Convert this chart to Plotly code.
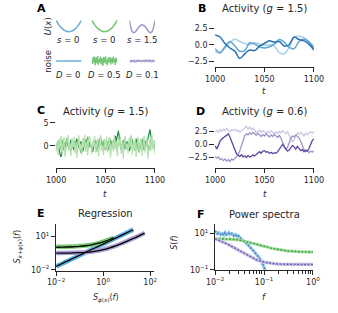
import numpy as np
import plotly.graph_objects as go

W, H = 338, 313

# ---------------- data ----------------
# Panel A: potentials and noise icons
pot_x = [-1.0, -0.75, -0.5, -0.25, 0.0, 0.25, 0.5, 0.75, 1.0]
pot_parabola = [1.0, 0.5625, 0.25, 0.0625, 0.0, 0.0625, 0.25, 0.5625, 1.0]
dw_x = [-1.5, -1.35, -1.2, -1.0, -0.8, -0.6, -0.4, -0.2, 0.0, 0.2, 0.4, 0.6, 0.8, 1.0, 1.2, 1.35, 1.5]
dw_u = [1.0, 0.433, 0.124, 0.0, 0.083, 0.262, 0.452, 0.59, 0.64, 0.59, 0.452, 0.262, 0.083, 0.0, 0.124, 0.433, 1.0]
noise_none = [0.0, 0.0]
noise_green = [0.2, -0.6, 0.8, -0.3, 0.9, -0.9, 0.4, 0.7, -0.5, 1.0, -0.8, 0.3, -0.2, 0.9, -0.7, 0.6, 0.1, -1.0, 0.8, -0.4,
               0.5, 0.95, -0.6, 0.2, -0.9, 0.7, 0.4, -0.3, 0.85, -0.7, 0.3, 0.6, -0.5, 0.9, -0.2, 0.4, -0.8, 0.7, 0.1, -0.3]
noise_purple = [0.05, -0.15, 0.1, -0.05, 0.2, -0.1, 0.0, 0.15, -0.2, 0.1, 0.05, -0.1, 0.15, -0.05, 0.1, -0.15, 0.2, 0.0, -0.1, 0.1,
                -0.2, 0.05, 0.15, -0.1, 0.0, 0.2, -0.15, 0.1, -0.05, 0.15, -0.1, 0.05, 0.2, -0.15, 0.0, 0.1, -0.1, 0.15, -0.05, 0.05]
pot_labels = ["<i>s</i> = 0", "<i>s</i> = 0", "<i>s</i> = 1.5"]
noise_labels = ["<i>D</i> = 0", "<i>D</i> = 0.5", "<i>D</i> = 0.1"]

# Panel B: smooth activity, g = 1.5
t_B = [1000, 1005, 1010, 1015, 1020, 1025, 1030, 1035, 1040, 1045, 1050, 1055, 1060, 1065, 1070, 1075, 1080, 1085, 1090, 1095, 1100]
B_dark = [1.5, 1.2, 0.2, -0.5, -1.0, -2.1, -1.4, -0.8, -0.9, -0.2, 0.2, 0.6, 0.4, 0.5, -0.2, 0.0, 1.2, 0.8, 0.6, 0.1, -0.8]
B_mid = [-0.6, -1.2, -0.3, 0.5, -0.2, -1.0, -0.9, 0.3, 0.1, -0.3, -0.5, -0.3, 0.1, 0.8, 0.4, -0.4, -0.6, 0.5, 0.9, 0.4, -0.5]
B_light = [-1.0, -1.3, -0.5, 0.3, 0.9, 0.5, 0.2, 0.0, 0.3, 0.1, -0.1, 0.0, -0.2, -1.2, -1.4, -0.4, 1.2, 1.3, 1.1, 0.5, -0.2]

# Panel C: noisy activity, g = 1.5
C_dark = [0.3, -0.4, 0.6, -0.9, -1.8, -2.4, -1.2, 0.2, 0.8, -0.3, 0.5, 1.1, 0.2, -0.6, 0.4, 1.3, 0.7, -0.2, -0.9, 0.1,
          0.9, 1.6, 0.6, -0.4, 0.3, 1.0, -0.5, -1.2, -0.3, 0.6, 1.4, 0.5, -0.7, 0.2, 0.9, 0.1, -0.8, -1.3, -0.2, 0.7,
          1.2, 0.3, -0.5, 0.4, 1.1, 1.8, 0.6, -0.3, 0.5, -0.6, 0.2, 1.0, 0.4, -0.9, 0.3, 1.3, 0.8, -0.1, 0.6, 1.5,
          2.2, 1.1, 2.6, 3.3, 1.9, 0.7, -0.4, 0.5, 1.2, 0.2, -0.7, 0.4, 1.0, 0.1, -1.1, -0.4, 0.6, 1.4, 0.3, -0.5,
          0.8, 1.6, 0.5, -0.6, -1.4, -0.3, 0.7, 1.2, 0.2, -0.8, 0.4, 1.1, 0.6, 1.7, 2.4, 3.6, 2.1, 0.9, 0.2, -0.6, 0.4]
C_mid = [-0.6, 0.4, 1.1, 0.2, -0.8, 0.5, 1.4, 0.3, -1.0, -0.2, 0.9, 1.7, 0.6, -0.5, 0.3, -1.1, -0.3, 0.8, 1.2, 0.1,
         -0.7, 0.5, 1.5, 0.4, -0.9, -1.5, -0.4, 0.7, 1.3, 0.2, -0.6, 0.9, 2.0, 1.0, -0.2, 0.4, -0.8, 0.3, 1.1, 0.5,
         -0.4, -1.2, 0.1, 0.8, 1.6, 0.7, -0.3, 0.5, 1.2, -0.1, -0.9, 0.3, 1.0, 0.2, 1.8, 0.9, -0.4, 0.2, -0.7, 0.6,
         1.3, 0.4, -0.5, 0.8, 1.5, 0.3, -1.0, -0.2, 0.9, 1.4, 0.5, -0.6, 0.1, 0.8, -0.3, 1.2, 2.1, 0.7, -0.4, 0.3,
         -1.1, -0.2, 0.6, 1.3, 0.4, -0.5, 0.9, 1.6, 0.2, -0.7, 0.5, -0.2, 1.0, 0.3, -0.9, 0.6, 1.4, 0.5, -0.3, 0.8, 1.2]
C_light = [-1.2, 0.9, -2.0, 1.6, -0.5, 2.2, -1.7, 0.4, 1.9, -2.4, -0.8, 1.3, 2.4, -1.1, 0.6, -2.2, 1.7, -0.3, 2.0, -1.6,
           0.8, -2.6, 1.1, 2.3, -0.9, 0.5, -1.9, 1.8, -0.4, 2.5, -1.3, 0.7, -2.1, 1.4, 2.1, -0.7, -1.8, 1.0, -0.2, 2.2,
           -1.5, 0.3, 1.6, -2.3, 0.9, 2.4, -1.0, 0.2, -2.0, 1.5, -0.6, 2.0, -1.4, 0.8, 1.9, -2.5, 0.4, 1.2, -1.2, 2.3,
           -0.8, 0.6, -2.2, 1.7, -0.1, 2.1, -1.7, 0.9, -2.7, 1.3, 2.2, -0.9, 0.5, -1.6, 1.8, -0.3, 2.4, -1.9, 0.7, -1.0,
           1.5, -2.4, 0.2, 2.0, -1.3, 0.8, 1.6, -2.1, -0.4, 2.2, -1.5, 0.6, 1.9, -2.8, 0.3, 1.4, -1.1, 2.5, -0.7, 1.0, -1.8]

# Panel D: bistable activity, g = 0.6
D_dark = [-0.3, -0.9, -0.2, 0.6, 1.0, 1.3, 1.5, 1.7, 2.0, 1.4, 0.6, -0.4, -1.2, -1.8, -2.1, -2.3, -2.0, -2.4, -2.2, -2.5,
          -2.1, -2.4, -2.3, -2.0, -2.2, -1.9, -1.6, -1.4, -1.7, -1.3, -1.2, -1.5, -1.4, -1.7, -1.5, -1.8, -1.6, -1.7, -1.4, -0.9,
          -0.4, 0.0, -0.5, -1.0, -1.3, -1.1, -0.6, -0.2, -0.5, -0.9, -0.4, -0.8, -1.2, -1.0, -1.4, -1.1, -1.3, -0.8, 0.1, 0.7, 1.1]
D_mid = [-2.3, -2.6, -2.4, -2.9, -2.7, -3.1, -2.8, -3.2, -2.9, -3.3, -2.8, -3.0, -2.7, -2.3, -2.0, -1.2, -0.2, 0.8, 1.6, 2.0,
         1.8, 2.2, 1.9, 2.3, 2.0, 1.7, 2.1, 1.8, 1.5, 1.9, 1.6, 2.0, 1.7, 1.4, 1.8, 1.5, 1.9, 1.6, 1.3, 1.7,
         1.2, 0.4, -0.5, -1.0, -0.6, 0.3, 1.2, 1.6, 1.4, 1.8, 1.5, 1.2, 0.6, -0.3, -1.0, -1.4, -1.2, -1.6, -1.3, -1.5, -1.2]
D_light = [2.4, 2.7, 2.3, 2.8, 2.5, 2.9, 2.6, 3.0, 2.7, 2.4, 2.8, 2.6, 2.9, 2.5, 2.7, 2.3, 2.6, 2.8, 3.1, 3.4,
           2.9, 3.3, 2.8, 3.1, 2.6, 2.2, 2.5, 2.7, 2.3, 2.6, 2.4, 2.1, 2.5, 2.2, 2.6, 2.3, 2.0, 2.4, 2.1, 2.5,
           2.2, 2.6, 2.3, 2.0, 2.4, 1.8, 1.0, 0.4, 0.9, 1.7, 2.2, 1.9, 2.3, 2.0, 1.6, 2.1, 1.8, 2.2, 2.4, 2.1, 2.5]

# Panel E: regression (log-log)
E_blue_x = [0.01, 0.0178, 0.0316, 0.0562, 0.1, 0.178, 0.316, 0.562, 1.0, 1.78, 3.16, 5.62, 10, 19]
E_blue_y = [0.02, 0.0356, 0.0632, 0.112, 0.2, 0.356, 0.632, 1.12, 2.0, 3.56, 6.32, 11.2, 20, 38]
E_blue_fit = [0.021, 0.037, 0.065, 0.115, 0.205, 0.36, 0.64, 1.13, 2.0, 3.55, 6.3, 11.1, 19.8, 37]
E_green_x = [0.01, 0.0178, 0.0316, 0.0562, 0.1, 0.178, 0.316, 0.562, 1.0, 1.78, 2.8]
E_green_y = [1.12, 1.14, 1.17, 1.22, 1.31, 1.47, 1.76, 2.28, 3.2, 4.84, 7.0]
E_green_fit = [1.04, 1.06, 1.09, 1.15, 1.24, 1.41, 1.71, 2.24, 3.16, 4.8, 7.0]
E_purple_x = [0.01, 0.0178, 0.0316, 0.0562, 0.1, 0.178, 0.316, 0.562, 1.0, 1.78, 3.16, 5.62, 10, 17.8, 31.6, 58]
E_purple_y = [0.323, 0.326, 0.33, 0.338, 0.352, 0.377, 0.421, 0.5, 0.64, 0.89, 1.33, 2.12, 3.52, 6.0, 10.4, 18.9]
E_purple_fit = [0.31, 0.313, 0.318, 0.326, 0.34, 0.366, 0.41, 0.49, 0.63, 0.88, 1.32, 2.1, 3.5, 5.9, 10.2, 18.5]

# Panel F: power spectra
F_blue_f = [0.010, 0.011, 0.012, 0.013, 0.014, 0.015, 0.016, 0.017, 0.018, 0.019, 0.020, 0.022, 0.024, 0.026, 0.028,
            0.030, 0.033, 0.036, 0.040, 0.045, 0.050, 0.055, 0.060, 0.065, 0.070, 0.080, 0.090, 0.100, 0.110, 0.120]
F_blue_S = [14, 9.5, 11, 8.5, 10, 8, 11, 8.5, 9.5, 11, 8.5, 10, 7.5, 9, 6.5,
            7.5, 5.5, 4.6, 3.6, 2.6, 2.0, 1.5, 1.2, 0.9, 0.75, 0.47, 0.28, 0.15, 0.08, 0.04]
F_f = [0.01, 0.013, 0.018, 0.025, 0.035, 0.05, 0.07, 0.1, 0.15, 0.2, 0.3, 0.5, 0.7, 1.0]
F_green_S = [5.2, 5.15, 5.0, 4.7, 4.1, 3.3, 2.6, 2.0, 1.5, 1.28, 1.1, 1.0, 0.97, 0.95]
F_purple_S = [5.1, 3.9, 2.6, 1.6, 0.95, 0.55, 0.36, 0.27, 0.22, 0.21, 0.2, 0.2, 0.2, 0.2]

# tick labels
time_ticks = [1000, 1050, 1100]
F_minor = [0.02, 0.03, 0.04, 0.05, 0.06, 0.07, 0.08, 0.09, 0.2, 0.3, 0.4, 0.5, 0.6, 0.7, 0.8, 0.9]

# ---------------- colours ----------------
BLUE_A, GREEN_A, PURPLE_A = "#6aaed8", "#74c476", "#a19dcc"
BLUES = ["#aad0e6", "#5ea5d3", "#2370b4"]
GREENS = ["#b3e0ac", "#63bb6a", "#1f8a43"]
PURPLES = ["#cac7e2", "#9b95c7", "#5e46a0"]
INK = "#262626"
FONT = "DejaVu Sans"

# ---------------- helpers ----------------
def pxx(x):
    return x / W

def pxy(y):
    return 1 - y / H

fig = go.Figure()
layout = {}
n_axes = [0]

def new_axes(xdom, ydom, xcfg, ycfg):
    n_axes[0] += 1
    i = n_axes[0]
    xs = "" if i == 1 else str(i)
    xref, yref = "x" + xs, "y" + xs
    xc = dict(domain=[pxx(xdom[0]), pxx(xdom[1])], anchor=yref, showgrid=False, zeroline=False)
    yc = dict(domain=[pxy(ydom[1]), pxy(ydom[0])], anchor=xref, showgrid=False, zeroline=False)
    xc.update(xcfg)
    yc.update(ycfg)
    layout["xaxis" + xs] = xc
    layout["yaxis" + xs] = yc
    return xref, yref

hidden = dict(visible=False)
tickfont = dict(family=FONT, size=8, color=INK)

# ---------------- panel A ----------------
a_cols = [(49, 76), (87, 114), (127, 154)]
for k, (x0, x1) in enumerate(a_cols):
    if k < 2:
        xr, yr = new_axes((x0, x1), (19, 35), dict(hidden, range=[-1, 1]), dict(hidden, range=[-0.233, 1.147]))
        fig.add_trace(go.Scatter(x=pot_x, y=pot_parabola, mode="lines", line=dict(color=[BLUE_A, GREEN_A][k], width=1.6, shape="spline"),
                                 xaxis=xr, yaxis=yr, hoverinfo="skip"))
    else:
        xr, yr = new_axes((x0, x1), (19, 35), dict(hidden, range=[-1.5, 1.5]), dict(hidden, range=[-0.135, 1.135]))
        fig.add_trace(go.Scatter(x=dw_x, y=dw_u, mode="lines", line=dict(color=PURPLE_A, width=1.6, shape="spline"),
                                 xaxis=xr, yaxis=yr, hoverinfo="skip"))
noise_sets = [noise_none, noise_green, noise_purple]
for k, (x0, x1) in enumerate(a_cols):
    vals = noise_sets[k]
    xr, yr = new_axes((x0, x1), (54, 70), dict(hidden, range=[0, len(vals) - 1]), dict(hidden, range=[-1.6, 1.6]))
    fig.add_trace(go.Scatter(x=list(range(len(vals))), y=vals, mode="lines",
                             line=dict(color=[BLUE_A, GREEN_A, PURPLE_A][k], width=1.3),
                             xaxis=xr, yaxis=yr, hoverinfo="skip"))

# ---------------- time panels ----------------
def time_axes(xdom, ydom, yrange, yticks, ytext):
    xcfg = dict(range=[1000, 1100], showline=True, linecolor=INK, linewidth=1.3, ticks="outside", ticklen=4,
                tickwidth=1, tickcolor=INK, tickvals=time_ticks, tickfont=tickfont)
    ycfg = dict(range=yrange, showline=False, ticks="outside", ticklen=5, tickwidth=1, tickcolor=INK,
                tickvals=yticks, ticktext=ytext, tickfont=tickfont)
    return new_axes(xdom, ydom, xcfg, ycfg)

def tvec(vals):
    return list(np.linspace(1000, 1100, len(vals)))

# B
xr, yr = time_axes((218, 323), (22, 68), [-3.41, 3.56], [-2.5, 0, 2.5], ["\u22122.5", "0.0", "2.5"])
for vals, c in [(B_light, BLUES[0]), (B_mid, BLUES[1]), (B_dark, BLUES[2])]:
    fig.add_trace(go.Scatter(x=t_B, y=vals, mode="lines", line=dict(color=c, width=1.5, shape="spline", smoothing=1.0),
                             xaxis=xr, yaxis=yr, hoverinfo="skip"))
# C
xr, yr = time_axes((49, 154), (118, 171), [-4.86, 6.49], [0, 5], ["0", "5"])
for vals, c in [(C_dark, GREENS[2]), (C_mid, GREENS[1]), (C_light, GREENS[0])]:
    fig.add_trace(go.Scatter(x=tvec(vals), y=vals, mode="lines", line=dict(color=c, width=1.2),
                             xaxis=xr, yaxis=yr, hoverinfo="skip"))
# D
xr, yr = time_axes((218, 323), (120, 171), [-4.56, 5.0], [-2.5, 0, 2.5], ["\u22122.5", "0.0", "2.5"])
for vals, c in [(D_light, PURPLES[0]), (D_mid, PURPLES[1]), (D_dark, PURPLES[2])]:
    fig.add_trace(go.Scatter(x=tvec(vals), y=vals, mode="lines", line=dict(color=c, width=1.3),
                             xaxis=xr, yaxis=yr, hoverinfo="skip"))

# ---------------- E ----------------
logaxis = dict(type="log", showline=True, linecolor=INK, linewidth=1.3, ticks="outside", ticklen=4,
               tickwidth=1, tickcolor=INK, tickfont=tickfont)
xr, yr = new_axes((49, 153), (228, 275),
                  dict(logaxis, range=[-2, 2.16], tickvals=[0.01, 1, 100],
                       ticktext=["10<sup>\u22122</sup>", "10<sup>0</sup>", "10<sup>2</sup>"]),
                  dict(logaxis, range=[-2.06, 2.05], tickvals=[0.01, 10],
                       ticktext=["10<sup>\u22122</sup>", "10<sup>1</sup>"]))
for xs, ys, c in [(E_blue_x, E_blue_y, "#5cb0e0"), (E_green_x, E_green_y, "#79cc72"), (E_purple_x, E_purple_y, "#aaa2d8")]:
    fig.add_trace(go.Scatter(x=xs, y=ys, mode="lines", line=dict(color=c, width=4.5, shape="spline"),
                             xaxis=xr, yaxis=yr, hoverinfo="skip"))
for xs, ys in [(E_blue_x, E_blue_fit), (E_green_x, E_green_fit), (E_purple_x, E_purple_fit)]:
    fig.add_trace(go.Scatter(x=xs, y=ys, mode="lines", line=dict(color="black", width=1.3, shape="spline"),
                             xaxis=xr, yaxis=yr, hoverinfo="skip"))

# ---------------- F ----------------
xr, yr = new_axes((218, 322), (228, 274.3),
                  dict(logaxis, range=[-2, 0], tickvals=[0.01, 0.1, 1],
                       ticktext=["10<sup>\u22122</sup>", "10<sup>\u22121</sup>", "10<sup>0</sup>"],
                       minor=dict(tickvals=F_minor, ticks="outside", ticklen=2.5, tickcolor=INK, tickwidth=0.8)),
                  dict(logaxis, range=[-1.0, 1.5], tickvals=[0.1, 10],
                       ticktext=["10<sup>\u22121</sup>", "10<sup>1</sup>"]))
for xs, ys, light, dark in [(F_blue_f, F_blue_S, "#a3cdea", "#3a80c2"),
                            (F_f, F_green_S, "#ace0a4", "#33a04a"),
                            (F_f, F_purple_S, "#c3bfe2", "#7161b4")]:
    fig.add_trace(go.Scatter(x=xs, y=ys, mode="lines", line=dict(color=light, width=3.2),
                             xaxis=xr, yaxis=yr, hoverinfo="skip"))
    fig.add_trace(go.Scatter(x=xs, y=ys, mode="lines", line=dict(color=dark, width=1.4, dash="2px,1.5px"),
                             xaxis=xr, yaxis=yr, hoverinfo="skip"))

# ---------------- annotations ----------------
ann = []
def text(x, y, s, size=8, angle=0, bold=False):
    ann.append(dict(x=pxx(x), y=pxy(y), xref="paper", yref="paper", text=("<b>%s</b>" % s) if bold else s,
                    showarrow=False, xanchor="center", yanchor="middle", textangle=angle,
                    font=dict(family=FONT, size=size, color="black" if bold else INK)))

for lab, xy in zip("ABCDEF", [(33, 9), (204, 9), (33, 112), (203, 113), (33, 217), (203, 218)]):
    text(xy[0], xy[1], lab, size=11, bold=True)
text(270, 9, "Activity (<i>g</i> = 1.5)", size=10)
text(101, 113, "Activity (<i>g</i> = 1.5)", size=10)
text(271, 113, "Activity (<i>g</i> = 0.6)", size=10)
text(102, 217, "Regression", size=10)
text(271, 218, "Power spectra", size=10)
text(40, 27, "<i>U</i>(<i>x</i>)", size=8.5, angle=-90)
text(40, 62, "noise", size=8.5, angle=-90)
for lab, cx in zip(pot_labels, [62, 100, 140.5]):
    text(cx, 41, lab, size=8.5)
for lab, cx in zip(noise_labels, [62, 100, 140.5]):
    text(cx, 76, lab, size=8.5)
text(270, 92, "<i>t</i>", size=8.5)
text(101, 197, "<i>t</i>", size=8.5)
text(271, 197, "<i>t</i>", size=8.5)
text(102, 303, "<i>S</i><sub><i>\u03d5</i>(<i>x</i>)</sub>(<i>f</i>)", size=8)
text(9, 250, "<i>S</i><sub><i>\u1e8b</i>+<i>\u03c8</i>(<i>x</i>)</sub>(<i>f</i>)", size=8, angle=-90)
text(271, 302, "<i>f</i>", size=8.5)
text(174, 247, "<i>S</i>(<i>f</i>)", size=8, angle=-90)

fig.update_layout(**layout)
fig.update_layout(width=W, height=H, margin=dict(l=0, r=0, t=0, b=0), paper_bgcolor="white",
                  plot_bgcolor="rgba(0,0,0,0)", showlegend=False, annotations=ann,
                  font=dict(family=FONT, size=8, color=INK))

fig.write_html("out.html", config={"displayModeBar": False},
               post_script="document.body.style.margin='0';document.body.style.padding='0';document.body.style.overflow='hidden';")
